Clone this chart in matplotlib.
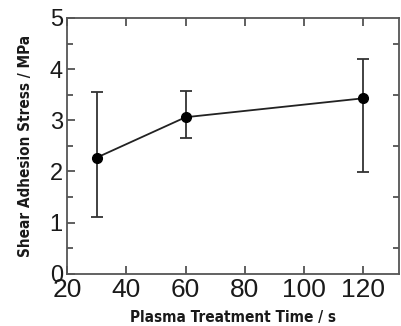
import matplotlib
matplotlib.use("Agg")
import matplotlib.pyplot as plt
from matplotlib.ticker import MultipleLocator

# values
time_s = [30, 60, 120]
stress = [2.27, 3.06, 3.43]
err_low = [1.12, 2.65, 1.99]
err_high = [3.55, 3.58, 4.20]

yerr = [[s - lo for s, lo in zip(stress, err_low)],
        [hi - s for s, hi in zip(stress, err_high)]]

plt.rcParams['font.family'] = ['Liberation Sans', 'DejaVu Sans']

fig = plt.figure(figsize=(4.01, 3.26), dpi=100)
ax = fig.add_axes([0.167, 0.16, 0.828, 0.785])

ax.errorbar(time_s, stress, yerr=yerr, color='#222222', lw=1.3,
            marker='o', ms=7, mfc='black', mec='black',
            ecolor='#333333', elinewidth=1.3, capsize=4, capthick=1.3)

ax.set_xlim(20, 132)
ax.set_ylim(0, 5)
ax.xaxis.set_major_locator(MultipleLocator(20))
ax.yaxis.set_major_locator(MultipleLocator(1))
ax.yaxis.set_minor_locator(MultipleLocator(0.5))
ax.tick_params(which='both', direction='in', top=True, right=True,
               colors='#444444', labelcolor='#1a1a1a', width=1.2)
ax.tick_params(which='major', length=6, pad=3)
ax.tick_params(which='minor', length=4)
ax.tick_params(axis='y', which='major', right=False, labelsize=17)
ax.tick_params(axis='y', which='minor', right=True)
ax.tick_params(axis='x', labelsize=19, pad=3)
for sp in ax.spines.values():
    sp.set_color('#555555')
    sp.set_linewidth(1.3)

ax.set_xlabel('Plasma Treatment Time / s', fontsize=11, family='DejaVu Sans',
              fontstretch='condensed', fontweight='bold', color='#1a1a1a',
              labelpad=6)
ax.set_ylabel('Shear Adhesion Stress / MPa', fontsize=11, family='DejaVu Sans',
              fontstretch='condensed', fontweight='bold', color='#1a1a1a',
              labelpad=12)

fig.savefig('out.png', dpi=100)
